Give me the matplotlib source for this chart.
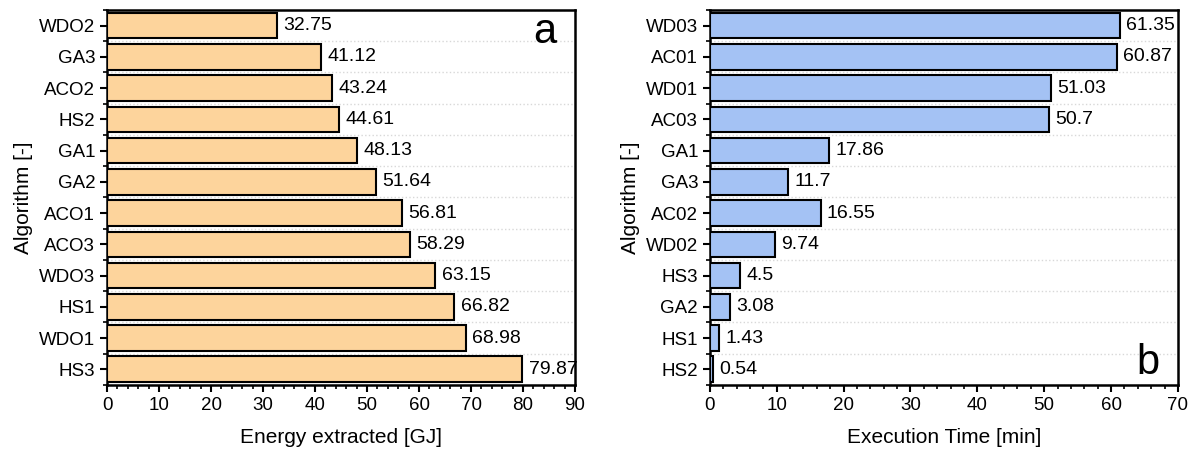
import matplotlib
matplotlib.use("Agg")
from matplotlib import pyplot as plt
from matplotlib.ticker import MultipleLocator, FixedLocator
import numpy as np

plt.rcParams['font.family'] = ['Liberation Sans', 'DejaVu Sans']

# panel a - energy extracted
alg_a = ['WDO2', 'GA3', 'ACO2', 'HS2', 'GA1', 'GA2', 'ACO1', 'ACO3', 'WDO3', 'HS1', 'WDO1', 'HS3']
energy = [32.75, 41.12, 43.24, 44.61, 48.13, 51.64, 56.81, 58.29, 63.15, 66.82, 68.98, 79.87]
energy_lbl = ['32.75', '41.12', '43.24', '44.61', '48.13', '51.64', '56.81', '58.29', '63.15', '66.82', '68.98', '79.87']

# panel b - execution time
alg_b = ['WD03', 'AC01', 'WD01', 'AC03', 'GA1', 'GA3', 'AC02', 'WD02', 'HS3', 'GA2', 'HS1', 'HS2']
exec_time = [61.35, 60.87, 51.03, 50.7, 17.86, 11.7, 16.55, 9.74, 4.5, 3.08, 1.43, 0.54]
time_lbl = ['61.35', '60.87', '51.03', '50.7', '17.86', '11.7', '16.55', '9.74', '4.5', '3.08', '1.43', '0.54']

fig = plt.figure(figsize=(11.89, 4.55), dpi=100)
ax1 = fig.add_axes([0.090, 0.154, 0.3936, 0.824])
ax2 = fig.add_axes([0.597, 0.154, 0.3937, 0.824])


def panel(ax, names, vals, lbls, color, xmax, xlabel, letter, letter_y, letter_va):
    n = len(names)
    y = np.arange(n)[::-1]
    ax.barh(y, vals, height=0.82, color=color, edgecolor='black', linewidth=1.5, zorder=3)
    for yi, v, t in zip(y, vals, lbls):
        ax.annotate(t, (v, yi), xytext=(4.5, 0), textcoords='offset points',
                    va='center', ha='left', fontsize=14, zorder=4)
    ax.set_ylim(-0.5, n - 0.5)
    ax.set_xlim(0, xmax)
    ax.set_yticks(y)
    ax.set_yticklabels(names, fontsize=13.5)
    ax.yaxis.set_minor_locator(FixedLocator(np.arange(n + 1) - 0.5))
    ax.xaxis.set_major_locator(MultipleLocator(10))
    ax.xaxis.set_minor_locator(MultipleLocator(2))
    ax.tick_params(axis='x', labelsize=13.5)
    ax.tick_params(which='major', direction='out', length=5, width=1.5)
    ax.tick_params(which='minor', direction='out', length=3, width=1.2)
    ax.grid(which='minor', axis='y', color='#d8d8d8', linestyle=':', linewidth=1, zorder=0)
    for s in ax.spines.values():
        s.set_linewidth(1.8)
    ax.set_xlabel(xlabel, fontsize=15, labelpad=10)
    ax.set_ylabel('Algorithm [-]', fontsize=15, labelpad=4)
    ax.text(0.96, letter_y, letter, transform=ax.transAxes, fontsize=30,
            ha='right', va=letter_va)


panel(ax1, alg_a, energy, energy_lbl, '#fdd49c', 90, 'Energy extracted [GJ]', 'a', 0.995, 'top')
panel(ax2, alg_b, exec_time, time_lbl, '#a4c2f4', 70, 'Execution Time [min]', 'b', 0.005, 'bottom')

fig.savefig('out.png', dpi=100)
